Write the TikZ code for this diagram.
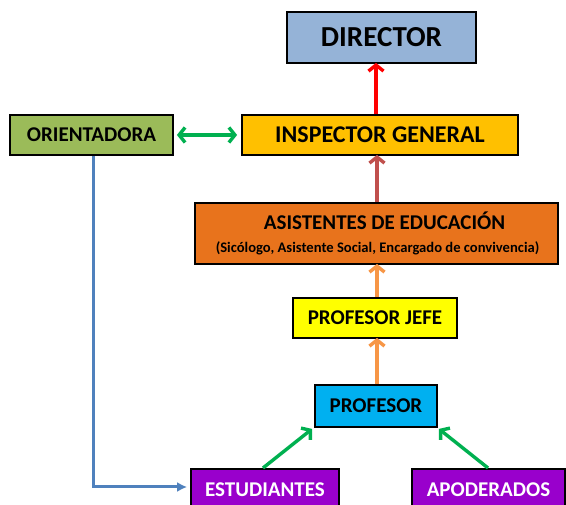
\documentclass[tikz,border=0pt]{standalone}
\usepackage{fontspec}
\setmainfont{Carlito}
\usetikzlibrary{arrows.meta,shadows}
\definecolor{cdir}{HTML}{95B3D7}
\definecolor{cinsp}{HTML}{FFC000}
\definecolor{corient}{HTML}{9BBB59}
\definecolor{casist}{HTML}{E8731C}
\definecolor{cjefe}{HTML}{FFFF00}
\definecolor{cprof}{HTML}{00B0F0}
\definecolor{cpurp}{HTML}{9900CC}
\definecolor{ared}{HTML}{FF0000}
\definecolor{abrown}{HTML}{C0504D}
\definecolor{aorange}{HTML}{F79646}
\definecolor{agreen}{HTML}{00B050}
\definecolor{ablue}{HTML}{4F81BD}
\begin{document}
\begin{tikzpicture}[x=1pt,y=-1pt,
  box/.style={draw=black, line width=1.8pt, inner sep=0pt, text=black,
    font=\bfseries\fontsize{21}{24}\selectfont,
    drop shadow={shadow xshift=1.2pt, shadow yshift=-1.2pt, opacity=0.35, fill=black!60}},
  arr/.style={line width=3.4pt, -{Straight Barb[length=6pt,width=15pt]}},
  darr/.style={line width=3.4pt, {Straight Barb[length=6pt,width=15pt]}-{Straight Barb[length=6pt,width=15pt]}}]
\clip (0,0) rectangle (566,505);
\fill[white] (0,0) rectangle (566,505);

\node[box, fill=cdir, minimum width=189pt, minimum height=51pt,
  font=\bfseries\fontsize{29}{32}\selectfont] (dir) at (381.5,37.5) {DIRECTOR};
\node[box, fill=corient, minimum width=163pt, minimum height=40pt] (orient) at (91.5,135) {ORIENTADORA};
\node[box, fill=cinsp, minimum width=276pt, minimum height=40pt,
  font=\bfseries\fontsize{24}{27}\selectfont] (insp) at (380,135) {INSPECTOR GENERAL};
\node[box, fill=casist, minimum width=363pt, minimum height=61pt, align=center] (asist) at (376.5,233.5)
  {\hspace*{16pt}\raisebox{2pt}{ASISTENTES DE EDUCACIÓN}\\[-3pt]{\fontsize{14.6}{16}\selectfont\hspace*{2pt}(Sicólogo, Asistente Social, Encargado de convivencia)}};
\node[box, fill=cjefe, minimum width=164pt, minimum height=40pt] (jefe) at (375,318) {PROFESOR JEFE};
\node[box, fill=cprof, minimum width=122pt, minimum height=42pt] (prof) at (376,406) {PROFESOR};
\node[box, fill=cpurp, text=white, minimum width=148pt, minimum height=42pt, anchor=north] (est) at (265,468)
  {\raisebox{-2pt}{ESTUDIANTES}};
\node[box, fill=cpurp, text=white, minimum width=153pt, minimum height=42pt, anchor=north] (apod) at (488.5,468)
  {\raisebox{-2pt}{APODERADOS}};

\coordinate (xa) at (376,0);
\coordinate (xb) at (377,0);
\draw[arr, ared] (insp.north -| xa) -- ([yshift=1pt]dir.south -| xa);
\draw[arr, abrown] (asist.north -| xb) -- ([yshift=1pt]insp.south -| xb);
\draw[arr, aorange] (jefe.north -| xb) -- ([yshift=1pt]asist.south -| xb);
\draw[arr, aorange] (prof.north -| xb) -- ([yshift=1pt]jefe.south -| xb);
\draw[darr, agreen] ([xshift=3pt]orient.east) -- ([xshift=-4pt]insp.west);
\draw[arr, agreen] ([xshift=-2pt]est.north) -- ([xshift=-2pt,yshift=-1pt]prof.south west);
\draw[arr, agreen] ([xshift=-0.5pt]apod.north) -- ([xshift=1pt,yshift=-1pt]prof.south east);
\coordinate (bl) at (93,487);
\draw[line width=3pt, ablue, -{Latex[length=10pt,width=10pt]}] (orient.south -| bl) |- ([xshift=-3pt]est.west |- bl);
\end{tikzpicture}
\end{document}
